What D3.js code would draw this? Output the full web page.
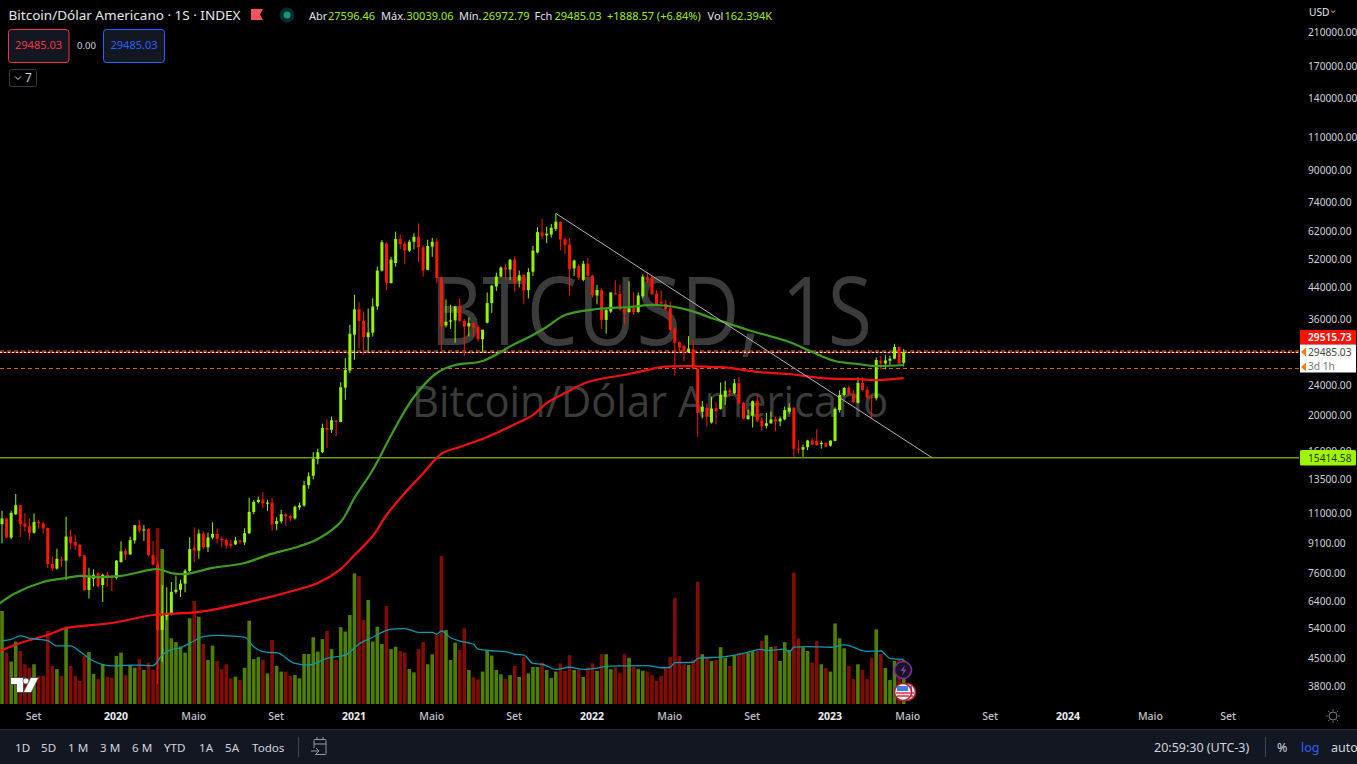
<!DOCTYPE html>
<html><head><meta charset="utf-8">
<script src="https://cdn.jsdelivr.net/npm/d3@7/dist/d3.min.js"></script>
<style>
html,body{margin:0;padding:0;background:#000;overflow:hidden}
svg{display:block;font-family:"Noto Sans",sans-serif}
</style></head><body>
<svg id="c" width="1357" height="764"></svg>
<script>
// Weekly candles, first bar = week of 15 Jul 2019, last bar = week of 24 Apr 2023
const openVals = [
10260,10620,9450,10900,11520,10300,10130,9730,10400,10310,
10020,8030,7810,8260,8200,9510,9190,9040,8470,6850,
7340,7590,7060,7520,7430,7370,8130,8690,8520,9280,
10180,9860,9950,8490,8000,5360,5830,5920,6770,6860,
7120,7700,8880,8720,9680,8900,9450,9660,9380,9300,
9100,9060,9280,9170,9700,11050,11750,11910,11650,11710,
10280,10440,10900,10780,10620,11370,11500,13030,13800,15300,
15950,18500,18300,19350,19200,23700,26300,32800,38300,35700,
32300,33200,39000,48600,57400,45000,50900,59000,57300,54900,
58000,59800,56000,48800,56300,58100,46500,34700,35650,35800,
39000,35700,34500,35200,34400,31900,35300,39800,44100,46850,
49500,48900,52000,45700,47400,43100,48250,54300,61400,60300,
60600,62750,65500,58900,57000,49250,50000,45900,50700,47100,
41700,43100,35900,37800,42300,42100,38300,37700,38600,37700,
41500,46700,46500,42200,40100,39600,38600,34100,31300,30600,
29500,30000,26600,20450,20950,19130,20900,20800,22400,23300,
22900,24350,21600,19550,19950,21800,19400,18750,19050,19500,
19250,19500,20450,20950,16300,16200,16450,17130,17100,16750,
16850,16600,17100,20650,22650,23700,22800,21600,24400,23400,
22400,22200,27950,27500,27950,28300,30400,27596.46];
const highVals = [
11130,10680,11130,12340,11540,10950,10620,10950,10530,10400,
10050,8420,8820,8400,10720,9930,9590,9100,8480,7850,
7770,7620,7570,7660,7510,8230,9230,8830,9500,10200,
10520,10200,9990,9250,8180,7060,6960,7190,7480,7290,
7790,9460,10050,9930,9800,9740,10380,10000,9490,9400,
9300,9480,9300,10000,12070,11900,12150,12480,11900,12050,
10700,11200,10950,10870,11500,11700,13380,14100,15950,16300,
19000,19500,19850,19450,24500,28400,34800,41900,40000,37800,
38500,41000,49800,58600,57800,52900,61700,60500,58200,58700,
61100,64900,56800,58700,59400,59300,46800,40700,39400,39100,
41000,36100,36500,35350,34800,33800,42500,44500,48000,49900,
50500,52200,53000,48600,47400,49300,56500,63400,66800,63600,
64700,69000,65700,59500,59300,51900,50500,51600,52400,47400,
44500,43500,38800,42500,45800,44500,39100,45500,42600,42500,
47500,48200,47000,43100,43100,40500,40200,34300,31400,30800,
32500,31700,26700,21830,21500,22400,21700,24450,24700,23600,
25000,25300,21700,20650,21900,22700,19800,20300,20450,19850,
19850,21100,21500,21000,17180,16700,17200,17400,18350,17100,
16950,17150,21000,23300,23800,24000,23350,25250,25250,23900,
22600,28500,28770,29000,28800,31000,30500,30039.06];
const lowVals = [
9110,9400,9360,10850,9470,9810,9320,9680,9980,9680,
7830,7710,7760,7900,7270,8790,8750,8340,6820,6500,
7000,6960,6360,7000,6800,7300,8100,8230,8500,9100,
9730,9250,8400,7970,3850,4410,5690,5860,6690,6560,
6750,7650,8120,8300,8800,8650,9350,9100,8900,8830,
8850,9020,9100,9020,9650,10900,11650,11300,11130,9850,
9880,10300,10150,10450,10550,11200,11400,12750,13500,14800,
15850,16350,17950,17600,19150,22000,25900,28100,30200,29000,
29300,32400,38200,48300,43100,44900,49800,55500,50500,54500,
55300,51300,46850,48700,52900,45000,29900,34300,34000,31200,
35500,28800,32450,32450,31500,29400,35150,37500,42900,46600,
46000,45800,42600,43800,39500,40950,47000,54000,59000,57500,
59470,61950,55000,53800,41700,47000,45800,45500,46100,41200,
39500,34000,33000,37500,41900,38100,34900,37500,37000,37500,
41000,45000,42000,39100,38800,37900,33600,25500,29250,27900,
29500,26500,17550,19630,18690,19000,18900,20700,21300,22400,
22750,21300,19500,19450,18550,19200,18150,18450,18950,18150,
18700,19400,20200,15500,15800,15500,16150,16700,16600,16300,
16450,16500,17050,20350,22450,22600,21600,21500,23250,22100,
19600,21900,26450,26500,27100,28200,27300,26972.79];
const closeVals = [
10620,9450,10990,11520,10260,10090,9730,10400,10310,9990,
8030,7810,8290,8200,9510,9150,8980,8430,6840,7430,
7520,7010,7520,7400,7370,8200,8680,8510,9300,10180,
9860,9930,8490,8000,5350,5830,5920,6770,6860,7120,
7700,8800,8720,9680,8900,9450,9660,9380,9300,9000,
8980,9280,9210,9700,11060,11760,11910,11650,11710,10240,
10450,10900,10750,10620,11410,11500,13030,13760,15300,15950,
18500,18300,19400,19200,23750,26400,33000,38300,35700,32300,
33250,39000,48600,57800,45000,52000,59000,57200,55000,58000,
59800,56000,48600,56500,58000,46400,34500,35500,35800,39000,
35700,34500,35200,34200,31900,33800,39800,44300,46850,49500,
48900,51900,45000,47200,43000,48100,54900,61500,60160,60900,
63200,65600,58800,56900,49000,51700,46500,50700,47100,41800,
43150,35900,38150,42500,42100,38300,37500,38550,37600,41700,
46800,45800,42000,39350,39700,38300,33750,31200,30300,29600,
30100,26700,20300,21090,19810,20850,20500,22650,23270,23000,
24350,21500,19600,20000,21800,19350,18700,19050,19500,19250,
19600,20650,20950,16300,16280,16450,17130,16700,16650,16900,
16500,17130,20800,22650,23650,22800,21700,24400,23350,22300,
22250,28080,27500,28000,28300,30400,27500,29485.03];
// volume, thousands
const volumeVals = [
344,190,157,231,196,147,134,147,104,104,
270,141,129,104,286,141,104,85,178,192,
111,92,148,101,97,178,190,107,144,134,
166,126,153,126,651,573,338,243,229,212,
190,317,381,323,222,163,216,159,129,147,
95,101,89,134,308,166,173,163,113,237,
141,120,120,104,107,95,185,185,247,194,
240,270,203,163,284,268,329,483,473,311,
385,231,286,222,362,203,212,196,190,129,
117,203,229,147,184,255,547,274,163,227,
200,280,126,99,91,120,200,179,126,110,
92,107,141,100,173,113,137,137,153,126,
96,120,150,123,180,126,128,100,136,150,
123,184,184,129,136,113,184,171,138,129,
123,120,107,86,104,132,174,393,178,147,
144,163,452,184,169,159,163,210,171,141,
180,190,185,190,196,197,233,254,211,215,
159,229,200,486,243,210,196,153,233,147,
133,120,298,243,206,141,92,147,126,92,
171,276,185,133,89,159,163,162.394];

// moving averages: bar index + price
const ma50Bars = [-1,3,9,14,17,21,26,32,34,37,40,46,53,58,65,69,74,77,81,86,90,95,99,105,112,116,119,123,130,137,143,150,155,159,163,172,177,182,187,191,197];
const ma50Vals = [6250,6722,7195,7370,7465,7413,7465,7737,7788,7596,7552,7840,8079,8484,8960,9364,10393,12040,14297,18620,22370,25920,27225,27910,30970,32720,34370,37010,38390,38860,39340,38140,36320,35030,33760,31350,29490,27910,27390,27050,27225];
const ma200Bars = [-1,4,10,14,24,33,43,54,65,69,74,77,81,84,88,92,96,100,106,113,116,119,123,128,137,141,144,150,155,159,165,172,179,187,191,197];
const ma200Vals = [4680,4947,5195,5424,5592,5873,5985,6361,6890,7150,7788,8484,9534,10847,12420,14000,15800,16462,17500,19188,20030,21567,22920,24536,25767,26400,26900,27050,26900,26740,26080,25767,25135,24975,24830,25135];
const volMaBars = [0,2,4,6,8,10,12,15,17,20,24,29,33,35,37,39,41,44,47,53,55,58,60,64,67,71,75,78,81,85,88,91,94,95,96,98,100,103,104,107,110,112,114,116,118,121,124,127,130,132,136,141,144,146,147,151,152,158,162,166,167,171,172,173,176,181,184,189,192,194,197];
const volMaVals = [234,239,252,243,239,234,215,215,194,159,141,144,142,181,202,208,224,249,254,247,212,191,190,150,144,169,181,222,247,277,279,265,265,258,270,245,233,221,203,197,194,184,181,150,147,128,136,128,133,139,141,142,134,136,153,154,169,175,187,202,197,203,191,210,212,210,219,195,196,169,165];

const priceTicks = [210000,170000,140000,110000,90000,74000,62000,52000,44000,36000,24000,20000,16000,13500,11000,9100,7600,6400,5400,4500,3800];
const timeTickBars = [7,25,42,60,77,94,112,129,146,164,181,198,216,233,251,268];
const timeTickLabels = ["Set","2020","Maio","Set","2021","Maio","Set","2022","Maio","Set","2023","Maio","Set","2024","Maio","Set"];
const levelPrices = {resistance:29515.73, last:29485.03, dashed:26800, support:15414.58};
const trendBars = [121,203.2], trendPrices = [69000,15414.58];

const svg = d3.select("#c");
const W=1357,H=764;
const x = d3.scaleLinear().domain([0,197]).range([2,903.7]);
const y = d3.scaleLog().domain([3800,210000]).range([686,32]);
const yv = d3.scaleLinear().domain([0,651]).range([704,528]);
const UP="#93f500",DN="#ff1500",VUP="#4f7f00",VDN="#800d00";
const bars=d3.range(openVals.length);

svg.append("rect").attr("width",W).attr("height",H).attr("fill","#000");
svg.append("defs").append("clipPath").attr("id","pane").append("rect").attr("width",1299).attr("height",705);
const g = svg.append("g").attr("clip-path","url(#pane)");

// watermark
const wm=g.append("g").attr("fill","#3b3b3b").attr("text-anchor","middle").attr("font-family","'Open Sans'");
wm.append("text").attr("x",651).attr("y",345).attr("font-size",95).attr("textLength",442).attr("lengthAdjust","spacingAndGlyphs").text("BTCUSD, 1S");
wm.append("text").attr("x",650).attr("y",417).attr("font-size",43).attr("textLength",476).attr("lengthAdjust","spacingAndGlyphs").text("Bitcoin/Dólar Americano");

// volume
g.append("g").selectAll("rect").data(bars).join("rect")
 .attr("x",i=>x(i)-1.8).attr("width",3.6)
 .attr("y",i=>yv(volumeVals[i])).attr("height",i=>yv(0)-yv(volumeVals[i]))
 .attr("fill",i=>closeVals[i]>=openVals[i]?VUP:VDN);

// level lines
const lvl=g.append("g");
lvl.append("line").attr("x1",0).attr("x2",1299).attr("y1",y(levelPrices.last)-1).attr("y2",y(levelPrices.last)-1).attr("stroke","#d8751a").attr("stroke-dasharray","4 3");
lvl.append("line").attr("x1",0).attr("x2",1299).attr("y1",y(levelPrices.resistance)+.5).attr("y2",y(levelPrices.resistance)+.5).attr("stroke","#ff1a00");
lvl.append("line").attr("x1",0).attr("x2",1299).attr("y1",y(levelPrices.resistance)+.5).attr("y2",y(levelPrices.resistance)+.5).attr("stroke","#fff").attr("stroke-dasharray","2 2");
lvl.append("line").attr("x1",0).attr("x2",1299).attr("y1",Math.round(y(levelPrices.dashed))+.5).attr("y2",Math.round(y(levelPrices.dashed))+.5).attr("stroke","#c9660f").attr("stroke-dasharray","4 3");
lvl.append("line").attr("x1",0).attr("x2",1299).attr("y1",y(levelPrices.support)).attr("y2",y(levelPrices.support)).attr("stroke","#6f9a12").attr("stroke-width",1.5);

// candles
const cg=g.append("g");
cg.selectAll("line").data(bars).join("line")
 .attr("x1",i=>x(i)).attr("x2",i=>x(i)).attr("y1",i=>y(highVals[i])).attr("y2",i=>y(lowVals[i]))
 .attr("stroke",i=>closeVals[i]>=openVals[i]?UP:DN).attr("stroke-width",1);
cg.selectAll("rect").data(bars).join("rect")
 .attr("x",i=>x(i)-1.5).attr("width",3)
 .attr("y",i=>y(Math.max(openVals[i],closeVals[i])))
 .attr("height",i=>Math.max(1.2,Math.abs(y(openVals[i])-y(closeVals[i]))))
 .attr("fill",i=>closeVals[i]>=openVals[i]?UP:DN);

// moving averages
const mkLine=(bs,vs,sy,col,w,curve)=>g.append("path")
 .attr("d",d3.line().x(d=>x(d[0])).y(d=>sy(d[1])).curve(curve)(bs.map((b,k)=>[b,vs[k]])))
 .attr("fill","none").attr("stroke",col).attr("stroke-width",w);
mkLine(ma50Bars,ma50Vals,y,"#3f9e1f",2.2,d3.curveCatmullRom.alpha(.5));
mkLine(ma200Bars,ma200Vals,y,"#f01210",2.2,d3.curveCatmullRom.alpha(.5));
mkLine(volMaBars,volMaVals,yv,"#0a9bb0",1.3,d3.curveMonotoneX);

// trend line
g.append("line").attr("x1",x(trendBars[0])).attr("y1",y(trendPrices[0])).attr("x2",x(trendBars[1])).attr("y2",y(trendPrices[1])).attr("stroke","#b2b5be").attr("stroke-width",1);

// logo
const logo=g.append("g").attr("stroke","#555").attr("stroke-width",1.6).attr("fill","#fff").attr("paint-order","stroke");
logo.append("path").attr("d","M11 678h12v14h-6v-8h-6z");
logo.append("circle").attr("cx",26).attr("cy",681).attr("r",2.6);
logo.append("path").attr("d","M31 678h7l-7 14h-7z");

// event icons
const ic=svg.append("g");
ic.append("circle").attr("cx",903).attr("cy",670).attr("r",8.5).attr("fill","#1a1424").attr("stroke","#7a2f9c").attr("stroke-width",1.6);
ic.append("path").attr("d","M905 665l-4.5 6h3l-1.5 4.500 4.500-6h-3z").attr("fill","#8e3bb5");
const flag=(cx)=>{
 ic.append("circle").attr("cx",cx).attr("cy",692).attr("r",8.5).attr("fill","#eef").attr("stroke","#b3202a").attr("stroke-width",1.6);
 ic.append("path").attr("d",`M${cx-7} 693h14M${cx-6} 696h12`).attr("stroke","#e0303a").attr("stroke-width",1.6);
 ic.append("rect").attr("x",cx-6).attr("y",686).attr("width",11).attr("height",5).attr("fill","#3d7fe0");
};
flag(907);flag(903);

// price axis
const yAxis=svg.append("g").attr("transform","translate(1301,0)")
 .call(d3.axisRight(y).tickValues(priceTicks).tickFormat(d3.format(".2f")).tickSize(0).tickPadding(7));
yAxis.select(".domain").remove();
yAxis.selectAll("text").attr("fill","#d1d4dc").attr("font-size",10.2).attr("font-family","'Noto Sans'");

// time axis
const xAxis=svg.append("g").attr("transform","translate(-1,713)")
 .call(d3.axisBottom(x).tickValues(timeTickBars).tickFormat((d,k)=>timeTickLabels[k]).tickSize(0).tickPadding(0));
xAxis.select(".domain").remove();
xAxis.selectAll("text").attr("fill",(d,k)=>/^20/.test(timeTickLabels[k])?"#eceef2":"#c0c3cc")
 .attr("font-size",10.5).attr("font-weight",(d,k)=>/^20/.test(timeTickLabels[k])?700:500).attr("font-family","'Noto Sans'");

// price labels
const lab=svg.append("g").attr("font-size",10.2);
const T=(p,xx,yy,s,fill,o={})=>{const t=p.append("text").attr("x",xx).attr("y",yy).attr("fill",fill).text(s);for(const k in o)t.attr(k,o[k]);return t;};
lab.append("rect").attr("x",1300).attr("y",330).attr("width",56).attr("height",14.5).attr("fill","#ff1100");
T(lab,1308,341,"29515.73","#fff",{"font-weight":600});
lab.append("rect").attr("x",1300).attr("y",344.500).attr("width",56).attr("height",28).attr("fill","#fff");
T(lab,1308,356,"29485.03","#444");
T(lab,1308,370,"3d 1h","#777");
lab.append("path").attr("d","M1301 352l5-4.500v9zM1301 367l5-4.500v9z").attr("fill","#e8801a");
lab.append("rect").attr("x",1300).attr("y",450).attr("width",56).attr("height",15.5).attr("rx",1.5).attr("fill","#9ff500");
T(lab,1308,461.5,"15414.58","#2a3a00");
T(svg,1309,16,"USD","#e6e8ec",{"font-size":10.2});
svg.append("path").attr("d","M1331 10.500l2 2 2-2").attr("fill","none").attr("stroke","#d1d4dc");

// header
const head=svg.append("g").attr("font-size",12);
T(head,8.5,20,"Bitcoin/Dólar Americano · 1S · INDEX","#e6e8ec",{"font-size":13,"textLength":232,"lengthAdjust":"spacingAndGlyphs"});
head.append("path").attr("d","M251 9h12l-3 5.500 3 5.500h-12z").attr("fill","#f7525f");
head.append("circle").attr("cx",287).attr("cy",15).attr("r",7.5).attr("fill","#0c2a28");
head.append("circle").attr("cx",287).attr("cy",15).attr("r",3.5).attr("fill","#089981");
const hv="#a5ee00",ht="#e0e3eb";
[["Abr",309,ht],["27596.46",328,hv],["Máx.",381,ht],["30039.06",406.500,hv],["Mín.",459,ht],["26972.79",482.5,hv],["Fch",534.500,ht],["29485.03",554.5,hv],["+1888.57 (+6.84%)",607,hv],["Vol",707.5,ht],["162.394K",724.5,hv]]
 .forEach(d=>T(head,d[1],20,d[0],d[2],{"font-size":11}));
// buy / sell boxes
const bx=(xx,w,col)=>svg.append("rect").attr("x",xx+.5).attr("y",29.5).attr("width",w).attr("height",33).attr("rx",3).attr("fill","#131722").attr("stroke",col);
bx(8,60.500,"#f23645");bx(103,61,"#2962ff");
T(svg,38.5,49,"29485.03","#f23645",{"font-size":11,"text-anchor":"middle"});
T(svg,134,49,"29485.03","#2962ff",{"font-size":11,"text-anchor":"middle"});
T(svg,86.5,49,"0.00","#d1d4dc",{"font-size":9.5,"text-anchor":"middle"});
svg.append("rect").attr("x",9.5).attr("y",69.5).attr("width",27).attr("height",17).attr("rx",2).attr("fill","#000").attr("stroke","#363a45");
svg.append("path").attr("d","M15 76.500l3 3 3-3").attr("fill","none").attr("stroke","#d1d4dc");
T(svg,25,82,"7","#d1d4dc",{"font-size":12});

// sun icon
const sun=svg.append("g").attr("stroke","#787b86").attr("fill","none");
sun.append("circle").attr("cx",1333).attr("cy",716).attr("r",4);
d3.range(8).forEach(k=>{const a=k*Math.PI/4;sun.append("line").attr("x1",1333+Math.cos(a)*5.200).attr("y1",716+Math.sin(a)*5.200).attr("x2",1333+Math.cos(a)*6.800).attr("y2",716+Math.sin(a)*6.800);});

// bottom bar
svg.append("rect").attr("x",0).attr("y",729).attr("width",W).attr("height",35).attr("fill","#131722");
svg.append("line").attr("x1",0).attr("x2",W).attr("y1",729.5).attr("y2",729.5).attr("stroke","#2a2e39");
const bb=svg.append("g").attr("font-size",11.6).attr("fill","#d1d4dc");
[["1D",15],["5D",41],["1 M",68],["3 M",100],["6 M",132],["YTD",164],["1A",199],["5A",225],["Todos",252]]
 .forEach(d=>bb.append("text").attr("x",d[1]).attr("y",752).text(d[0]));
const br=svg.append("g").attr("font-size",12.5).attr("fill","#d1d4dc");
[["20:59:30 (UTC-3)",1154],["%",1277],["auto",1331]].forEach(d=>br.append("text").attr("x",d[1]).attr("y",752).text(d[0]));
br.append("text").attr("x",1301).attr("y",752).attr("fill","#2962ff").text("log");
svg.append("path").attr("d","M298.500 737v20M1265.500 737v20").attr("stroke","#434651");
const cal=svg.append("g").attr("fill","none").attr("stroke","#9598a1").attr("transform","translate(-2,0)");
cal.append("path").attr("d","M316 748v-7.500a1 1 0 0 1 1 -1h10a1 1 0 0 1 1 1v13a1 1 0 0 1 -1 1h-10M316 744h12M313 751h8m-3 -3l3 3-3 3M319 737v3M325 737v3");
</script>
</body></html>
